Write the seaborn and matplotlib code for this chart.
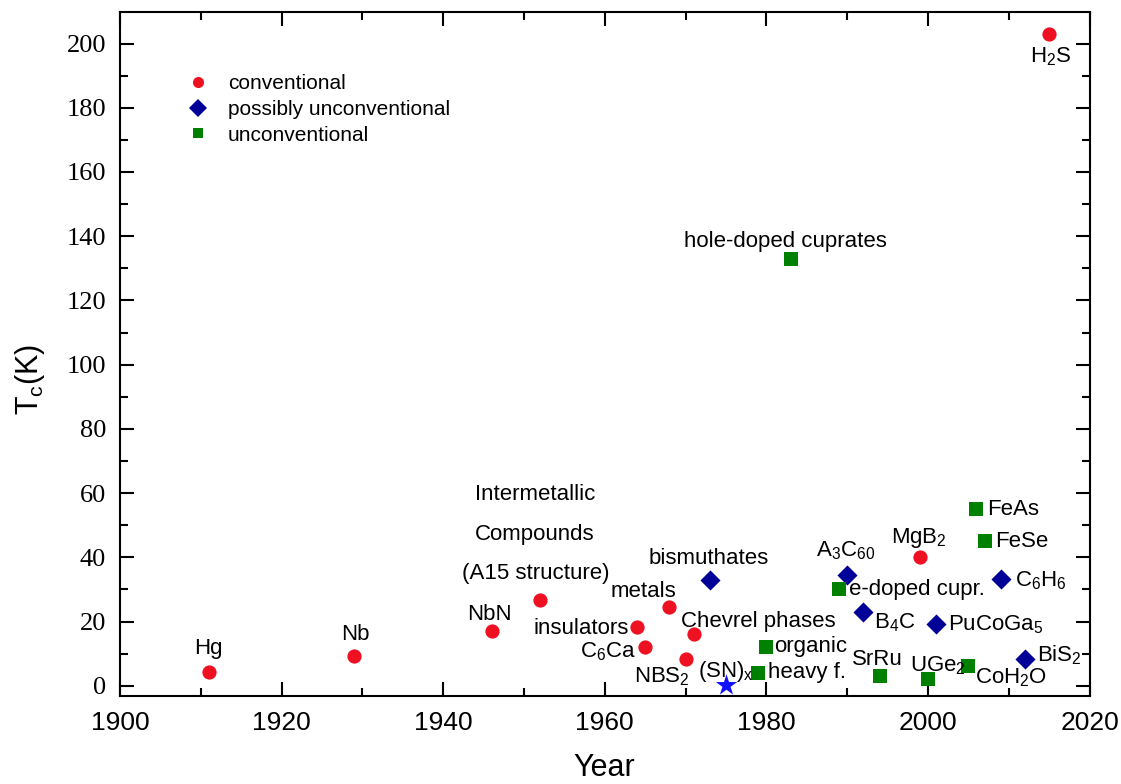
import matplotlib
matplotlib.use("Agg")
import matplotlib.pyplot as plt
from matplotlib.lines import Line2D
from matplotlib.ticker import MultipleLocator
import seaborn as sns
import pandas as pd

# ---------------- data ----------------
conv_names = ["Hg", "Nb", "NbN", "A15", "insulators", "C6Ca", "metals", "Chevrel", "NBS2", "MgB2", "H2S"]
conv_year = [1911, 1929, 1946, 1952, 1964, 1965, 1968, 1971, 1970, 1999, 2015]
conv_tc = [4.2, 9.2, 17.0, 26.7, 18.2, 12.0, 24.6, 16.1, 8.2, 40.0, 203.0]

pun_names = ["bismuthates", "A3C60", "B4C", "PuCoGa5", "C6H6", "BiS2"]
pun_year = [1973, 1990, 1992, 2001, 2009, 2012]
pun_tc = [33.0, 34.5, 23.0, 19.1, 33.1, 8.2]

unc_names = ["cuprates", "edoped", "organic", "heavy", "SrRu", "UGe2", "CoH2O", "FeAs", "FeSe"]
unc_year = [1983, 1989, 1980, 1979, 1994, 2000, 2005, 2006, 2007]
unc_tc = [133.0, 30.0, 12.1, 4.1, 3.1, 2.1, 6.0, 55.0, 45.1]

star_year = [1975]
star_tc = [0.3]

categories = ["conventional", "possibly unconventional", "unconventional"]

# label text, anchored to a point (category, index)
labels = [
    ("conventional", 0, "Hg"),
    ("conventional", 1, "Nb"),
    ("conventional", 2, "NbN"),
    ("conventional", 3, "Intermetallic"),
    ("conventional", 3, "Compounds"),
    ("conventional", 3, "(A15 structure)"),
    ("conventional", 4, "insulators"),
    ("conventional", 5, "C$_6$Ca"),
    ("conventional", 6, "metals"),
    ("conventional", 7, "Chevrel phases"),
    ("conventional", 8, "NBS$_2$"),
    ("conventional", 9, "MgB$_2$"),
    ("conventional", 10, "H$_2$S"),
    ("possibly unconventional", 0, "bismuthates"),
    ("possibly unconventional", 1, "A$_3$C$_{60}$"),
    ("possibly unconventional", 2, "B$_4$C"),
    ("possibly unconventional", 3, "PuCoGa$_5$"),
    ("possibly unconventional", 4, "C$_6$H$_6$"),
    ("possibly unconventional", 5, "BiS$_2$"),
    ("unconventional", 0, "hole-doped cuprates"),
    ("unconventional", 1, "e-doped cupr."),
    ("unconventional", 2, "organic"),
    ("unconventional", 3, "heavy f."),
    ("unconventional", 4, "SrRu"),
    ("unconventional", 5, "UGe$_2$"),
    ("unconventional", 6, "CoH$_2$O"),
    ("unconventional", 7, "FeAs"),
    ("unconventional", 8, "FeSe"),
    ("star", 0, "(SN)$_x$"),
]
# layout: (dx px, dy px, ha) for each label above
label_layout = [
    (0, 18, "center"), (1, 16, "center"), (-2, 11, "center"),
    (-5, 100, "center"), (-5, 60, "center"), (-4, 21, "center"),
    (-8, -7, "right"), (-9, -10, "right"), (-26, 10, "center"),
    (-13, 7, "left"), (4, -23, "right"), (-1, 14, "center"), (1, -28, "center"),
    (-1, 16, "center"), (-2, 19, "center"), (11, -16, "left"), (12, -6, "left"),
    (14, -7, "left"), (12, -2, "left"),
    (-5, 12, "center"), (10, -6, "left"), (8, -5, "left"), (10, -5, "left"),
    (-2, 11, "center"), (-18, 8, "left"), (7, -17, "left"), (11, -6, "left"),
    (11, -6, "left"), (-28, 8, "left"),
]

# ---------------- style ----------------
sns.set_theme(style="ticks")
plt.rcParams["font.family"] = ["Liberation Sans", "DejaVu Sans"]
plt.rcParams["mathtext.fontset"] = "custom"
plt.rcParams["mathtext.rm"] = "Liberation Sans"
plt.rcParams["mathtext.default"] = "regular"
for key in ["text.color", "axes.labelcolor", "xtick.color", "ytick.color", "axes.edgecolor"]:
    plt.rcParams[key] = "black"

colors = {"conventional": "#ee1122", "possibly unconventional": "#000099",
          "unconventional": "#008000"}
markers = {"conventional": "o", "possibly unconventional": "D", "unconventional": "s"}
sizes = {"conventional": 105, "possibly unconventional": 105, "unconventional": 95}

df = pd.DataFrame({
    "year": conv_year + pun_year + unc_year,
    "tc": conv_tc + pun_tc + unc_tc,
    "type": ["conventional"] * len(conv_year) + ["possibly unconventional"] * len(pun_year)
            + ["unconventional"] * len(unc_year),
})

fig = plt.figure(figsize=(11.21, 7.84), dpi=100)
ax = fig.add_axes([0.1070, 0.1122, 0.8650, 0.8724])

for cat in categories:
    sub = df[df["type"] == cat]
    sns.scatterplot(data=sub, x="year", y="tc", color=colors[cat], marker=markers[cat],
                    s=sizes[cat], linewidth=0, ax=ax, legend=False, zorder=3)
sns.scatterplot(x=star_year, y=star_tc, color="#1010ff", marker="*", s=260, linewidth=0,
                ax=ax, legend=False, zorder=3)

points = {
    "conventional": list(zip(conv_year, conv_tc)),
    "possibly unconventional": list(zip(pun_year, pun_tc)),
    "unconventional": list(zip(unc_year, unc_tc)),
    "star": list(zip(star_year, star_tc)),
}
for (cat, i, txt), (dx, dy, ha) in zip(labels, label_layout):
    ax.annotate(txt, xy=points[cat][i], xytext=(dx, dy), textcoords="offset pixels",
                ha=ha, va="baseline", fontsize=16, color="black", zorder=4)

ax.set_xlim(1900, 2020)
ax.set_ylim(-3.2, 209.8)
ax.xaxis.set_major_locator(MultipleLocator(20))
ax.xaxis.set_minor_locator(MultipleLocator(10))
ax.yaxis.set_major_locator(MultipleLocator(20))
ax.yaxis.set_minor_locator(MultipleLocator(10))
ax.tick_params(which="both", direction="in", top=True, right=True, width=1.5, color="black",
               labelcolor="black")
ax.tick_params(which="major", length=10)
ax.tick_params(which="minor", length=6)
ax.tick_params(axis="x", which="major", labelsize=19, pad=11)
ax.tick_params(axis="y", which="major", labelsize=19, pad=10)
for lab in ax.get_yticklabels():
    lab.set_family("Liberation Serif")
for sp in ax.spines.values():
    sp.set_linewidth(1.5)
    sp.set_color("black")

ax.set_xlabel("Year", fontsize=22, color="black")
ax.set_ylabel("T$_c$(K)", fontsize=22, color="black")
ax.xaxis.set_label_coords(0.4997, -0.084)
ax.yaxis.set_label_coords(-0.075, 0.4635)

handles = [
    Line2D([], [], linestyle="none", marker="o", color=colors["conventional"], markersize=8, markeredgewidth=0),
    Line2D([], [], linestyle="none", marker="D", color=colors["possibly unconventional"], markersize=8.7, markeredgewidth=0),
    Line2D([], [], linestyle="none", marker="s", color=colors["unconventional"], markersize=7.2, markeredgewidth=0),
]
leg = ax.legend(handles, categories, loc="upper left", bbox_to_anchor=(0.061, 0.921), frameon=False,
                fontsize=15, handlelength=1.0, handletextpad=0.94, labelspacing=0.32, borderpad=0.4,
                borderaxespad=0)
for t in leg.get_texts():
    t.set_color("black")

fig.savefig("out.png", dpi=100, facecolor="white")
